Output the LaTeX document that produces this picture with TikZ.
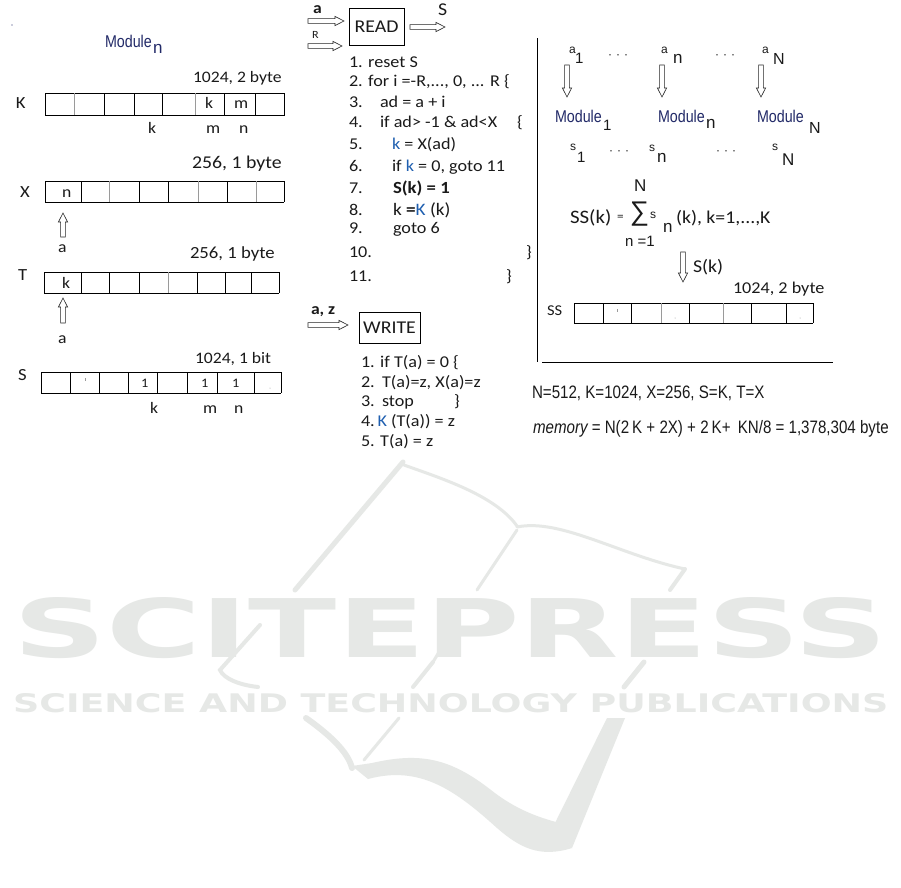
\documentclass[tikz,border=0pt]{standalone}
\usepackage{fontspec}
\usepackage{graphicx}
\setmainfont{Carlito}[FakeStretch=1.1]
\newfontfamily\arialf{Liberation Sans}
\newfontfamily\arialn{Liberation Sans}[FakeStretch=0.84]
\newfontfamily\wmf{DejaVu Sans}
\definecolor{ink}{HTML}{1A1A1A}
\definecolor{modblue}{HTML}{222A68}
\definecolor{kblue}{HTML}{1F5FB0}
\definecolor{wm}{HTML}{E6E8E6}
\definecolor{cellgray}{HTML}{9A9A9A}
\newcommand{\fs}[1]{\fontsize{#1}{#1}\selectfont}
\tikzset{
  txt/.style={inner sep=0pt, outer sep=0pt, anchor=base west, text=ink},
  ctxt/.style={inner sep=0pt, outer sep=0pt, anchor=center, text=ink},
  pics/barrow/.style={code={
    \draw[draw=black!85, fill=white, line width=0.6pt, line join=miter]
      ({-#1/2},-2.4) -- ({#1/2-9},-2.4) -- ({#1/2-9},-4.6) -- ({#1/2},0)
      -- ({#1/2-9},4.6) -- ({#1/2-9},2.4) -- ({-#1/2},2.4) -- cycle;
  }},
  procbox/.style={draw=black, line width=0.7pt, inner sep=0pt, text=ink, font=\fs{18}},
  memline/.style={draw=black, line width=0.7pt},
  memgray/.style={draw=cellgray, line width=0.7pt},
  frameline/.style={draw=black, line width=0.9pt},
  wmline/.style={draw=wm, line cap=round},
  modtxt/.style={txt, text=modblue, font=\arialn\fs{17}},
  subtxt/.style={txt, font=\arialf\fs{#1}},
  code/.style={txt, font=\fs{16.5}},
  lbl/.style={txt, font=\fs{17}}
}
\begin{document}
\begin{tikzpicture}[x=1pt,y=-1pt]
\fill[white] (0,0) rectangle (901,887);
\path[use as bounding box] (0,0) rectangle (901,887);

% ---------- watermark ----------
\draw[wmline, line width=5pt] (403,462) -- (295,590);
\draw[wmline, line width=3pt] (404,465) .. controls (440,478) and (495,495) .. (517,526);
\draw[wmline, line width=3pt] (517,527) .. controls (560,518) and (620,555) .. (685,569);
\draw[wmline, line width=4pt] (685,569) -- (670,590);
\draw[wmline, line width=3pt] (517,530) -- (477,590);
\draw[wmline, line width=4pt] (260,625) -- (220,670) .. controls (224,679) and (240,685) .. (258,687);
\draw[wmline, line width=3pt] (445,642) -- (433,662);
\draw[wmline, line width=4pt] (433,662) -- (413,687);
\draw[wmline, line width=5pt] (644,662) -- (624,687);
\draw[wmline, line width=6pt] (306,718) .. controls (330,735) and (348,752) .. (352,768);
\draw[wmline, line width=3pt] (399,718) -- (364,760);
\fill[wm] (607,718) -- (625,718) -- (572,848) -- (555,823) -- cycle;
\fill[wm] (352,766) -- (368,779) .. controls (420,765) and (455,790) .. (497,828)
  .. controls (520,848) and (540,858) .. (572,848) -- (556,822)
  .. controls (530,815) and (510,805) .. (491,790)
  .. controls (450,758) and (420,752) .. (372,763) -- cycle;
\node[inner sep=0pt, anchor=base west, text=wm] (wmA) at (13,657)
  {\resizebox{874pt}{60pt}{\wmf\bfseries SCITEPRESS}};
\node[inner sep=0pt, anchor=base west, text=wm] (wmB) at (13,712)
  {\resizebox{875pt}{19pt}{\wmf\bfseries SCIENCE AND TECHNOLOGY PUBLICATIONS}};

% ---------- left column ----------
\fill[modblue] (12,25) circle (0.6);
\node[modtxt] (modL) at (105,47) {Module};
\node[subtxt=17, text=modblue] (modLn) at (153,53) {n};

\node[txt, font=\fs{16}] (kcap) at (193,82) {1024, 2 byte};
\node[lbl] (Klab) at (16,108) {K};
\draw[memline] (45,93) -- (285,93) (45,115) -- (285,115);
\foreach \x in {45,104,134,162,224,255,284} \draw[memline] (\x,93) -- (\x,115);
\foreach \x in {74,195} \draw[memgray] (\x,93) -- (\x,115);
\node[txt, font=\fs{16}] (Kk) at (205,108) {k};
\node[txt, font=\fs{16}] (Km) at (234,108) {m};
\node[txt, font=\fs{16}] (Kbk) at (148,133) {k};
\node[txt, font=\fs{16}] (Kbm) at (206,133) {m};
\node[txt, font=\fs{16}] (Kbn) at (239,133) {n};

\node[txt, font=\fs{18}] (xcap) at (192,168) {256, 1 byte};
\node[lbl] (Xlab) at (20,197) {X};
\draw[memline] (45,181) -- (284,181) (45,202) -- (284,202);
\foreach \x in {45,81,139,168,227,284} \draw[memline] (\x,181) -- (\x,202);
\foreach \x in {109,198,256} \draw[memgray] (\x,181) -- (\x,202);
\node[txt, font=\fs{16}] (Xn) at (62,197) {n};
\pic[rotate=90] (upX) at (63,225) {barrow=24};
\node[txt, font=\fs{16}] (Xa) at (58,252) {a};

\node[txt, font=\fs{17}] (tcap) at (190,258) {256, 1 byte};
\node[lbl] (Tlab) at (18,280) {T};
\draw[memline] (44,272) -- (279,272) (44,293) -- (279,293);
\foreach \x in {44,81,109,139,197,225,251,279} \draw[memline] (\x,272) -- (\x,293);
\foreach \x in {168} \draw[memgray] (\x,272) -- (\x,293);
\node[txt, font=\fs{16}] (Tk) at (62,288) {k};
\pic[rotate=90] (upT) at (63,310.5) {barrow=25};
\node[txt, font=\fs{16}] (Ta) at (58,343) {a};

\node[txt, font=\fs{16}] (scap) at (195,363) {1024, 1 bit};
\node[lbl] (Slab) at (18,380) {S};
\draw[memline] (41,372) -- (281,372) (41,393) -- (281,393);
\foreach \x in {41,70,99,128,157,187,217,254,281} \draw[memline] (\x,372) -- (\x,393);
\draw[memgray, line width=0.5pt] (85,378) -- (85,381);
\fill[cellgray] (270,388) circle (0.5);
\node[txt, font=\fs{13}] (S1a) at (141,387) {1};
\node[txt, font=\fs{13}] (S1b) at (201,387) {1};
\node[txt, font=\fs{13}] (S1c) at (232,387) {1};
\node[txt, font=\fs{16}] (Sbk) at (150,413) {k};
\node[txt, font=\fs{16}] (Sbm) at (203,413) {m};
\node[txt, font=\fs{16}] (Sbn) at (234,413) {n};

% ---------- READ ----------
\node[txt, font=\bfseries\fs{16}] (inA) at (313,13) {a};
\pic (arA) at (326,21) {barrow=36};
\node[txt, font=\fs{11}] (inR) at (312,38) {R};
\pic (arR) at (325,46) {barrow=34};
\node[procbox, minimum width=55pt, minimum height=37pt] (read) at (376.5,26.5) {READ};
\pic (arS) at (427.5,27) {barrow=35};
\node[txt, font=\fs{18}] (outS) at (438,15) {S};

\node[code] (r1) at (349,67.5) {1. reset S};
\node[code] (r2) at (349,86.5) {2. for i =-R,..., 0, ... R \{};
\node[code] (r3n) at (349,107) {3.};
\node[code] (r3) at (380,107) {ad = a + i};
\node[code] (r4n) at (349,127.5) {4.};
\node[code] (r4) at (380,127.5) {if ad> -1 \& ad<X};
\node[code] (r4b) at (517,127.5) {\{};
\node[code] (r5n) at (349,149) {5.};
\node[code] (r5) at (392,149) {\textcolor{kblue}{k} = X(ad)};
\node[code] (r6n) at (349,171) {6.};
\node[code] (r6) at (392,171) {if \textcolor{kblue}{k} = 0, goto 11};
\node[code] (r7n) at (349,193) {7.};
\node[txt, font=\bfseries\fs{17}] (r7) at (393,193) {S(k) = 1};
\node[code] (r8n) at (349,215.5) {8.};
\node[txt, font=\fs{17.5}] (r8) at (393,215.5) {k \textbf{=}\textcolor{kblue}{K} (k)};
\node[code] (r9n) at (349,233.5) {9.};
\node[code] (r9) at (393,233.5) {goto 6};
\node[code] (r10n) at (349,257) {10.};
\node[code] (r10b) at (526,257) {\}};
\node[code] (r11n) at (349,281) {11.};
\node[code] (r11b) at (506,281) {\}};

% ---------- WRITE ----------
\node[txt, font=\bfseries\fs{16}] (inAZ) at (311,314) {a, z};
\pic (arW) at (328,325) {barrow=40};
\node[procbox, minimum width=61pt, minimum height=31pt] (write) at (389.5,327.5) {WRITE};
\node[code] (w1) at (361,367) {1. if T(a) = 0 \{};
\node[code] (w2n) at (361,387) {2.};
\node[code] (w2) at (382,387) {T(a)=z, X(a)=z};
\node[code] (w3n) at (361,406) {3.};
\node[code] (w3) at (382,406) {stop};
\node[code] (w3b) at (454,406) {\}};
\node[code] (w4) at (361,426) {4.\,\textcolor{kblue}{K} (T(a)) = z};
\node[code] (w5) at (361,446) {5. T(a) = z};

% ---------- right panel ----------
\coordinate (vtop) at (537,38);
\coordinate (vbot) at (537,362);
\coordinate (hl) at (542,362);
\coordinate (hr) at (833,362);
\draw[frameline] (vtop) -- (vbot);
\draw[frameline] (hl) -- (hr);

\node[subtxt=12] (a1a) at (569,53) {a};
\node[subtxt=15] (a1s) at (575,63) {1};
\node[ctxt, font=\arialf\fs{12}] (da1) at (618,57) {·\hspace{4pt}·\hspace{4pt}·};
\node[subtxt=12] (ana) at (661,53) {a};
\node[subtxt=17] (ans) at (673,63) {n};
\node[ctxt, font=\arialf\fs{12}] (da2) at (725,57) {·\hspace{4pt}·\hspace{4pt}·};
\node[subtxt=12] (aNa) at (762,53) {a};
\node[subtxt=16] (aNs) at (773,64) {N};

\pic[rotate=-90] (dn1) at (567,81) {barrow=32};
\pic[rotate=-90] (dn2) at (662,81) {barrow=32};
\pic[rotate=-90] (dn3) at (761,81) {barrow=32};

\node[modtxt] (mod1) at (555,122) {Module};
\node[subtxt=15] (mod1s) at (603,130) {1};
\node[modtxt] (mod2) at (658,122) {Module};
\node[subtxt=17] (mod2s) at (706,128) {n};
\node[modtxt] (mod3) at (757,122) {Module};
\node[subtxt=16] (mod3s) at (809,133) {N};

\node[subtxt=12] (s1a) at (570,150) {s};
\node[subtxt=15] (s1s) at (577,162) {1};
\node[ctxt, font=\arialf\fs{12}] (ds1) at (619,153) {·\hspace{4pt}·\hspace{4pt}·};
\node[subtxt=12] (sna) at (649,151) {s};
\node[subtxt=17] (sns) at (657,162) {n};
\node[ctxt, font=\arialf\fs{12}] (ds2) at (726,153) {·\hspace{4pt}·\hspace{4pt}·};
\node[subtxt=12] (sNa) at (772,150) {s};
\node[subtxt=17] (sNs) at (782,165) {N};

\node[subtxt=17] (sumN) at (634,191) {N};
\node[txt, font=\fs{19}] (ssk) at (570,223) {SS(k)};
\node[txt, font=\fs{12}] (sseq) at (617,220) {=};
\node[ctxt, font=\arialf\fs{27}] (sigma) at (639.5,214.5) {∑};
\node[subtxt=12] (sums) at (650,218) {s};
\node[subtxt=17] (sumn) at (663,232) {n};
\node[txt, font=\fs{18}] (sumk) at (676,223) {(k), k=1,...,K};
\node[subtxt=15] (sumlo) at (625,246) {n =1};

\pic[rotate=-90] (dnS) at (683,267) {barrow=30};
\node[txt, font=\fs{18}] (Sk) at (693,272) {S(k)};
\node[txt, font=\fs{16.5}] (sscap) at (733,293) {1024, 2 byte};
\node[txt, font=\fs{15}] (SSlab) at (547,315) {SS};
\draw[memline] (574,303) -- (813,303) (574,323) -- (813,323);
\foreach \x in {574,603,631,689,751,786,813} \draw[memline] (\x,303) -- (\x,323);
\foreach \x in {661,723} \draw[memgray] (\x,303) -- (\x,323);
\draw[memgray, line width=0.5pt] (617,309) -- (617,312);
\fill[cellgray] (675,318) circle (0.5);
\fill[cellgray] (800,318) circle (0.5);

\node[txt, font=\arialn\fs{18}] (eq1) at (532,398) {N=512, K=1024, X=256, S=K, T=X};
\node[txt, font=\arialn\fs{18}] (eq2) at (533,433)
  {\itshape memory\upshape{} = N(2\,K + 2X) + 2\,K+ \,KN/8 = 1,378,304 byte};
\end{tikzpicture}
\end{document}
